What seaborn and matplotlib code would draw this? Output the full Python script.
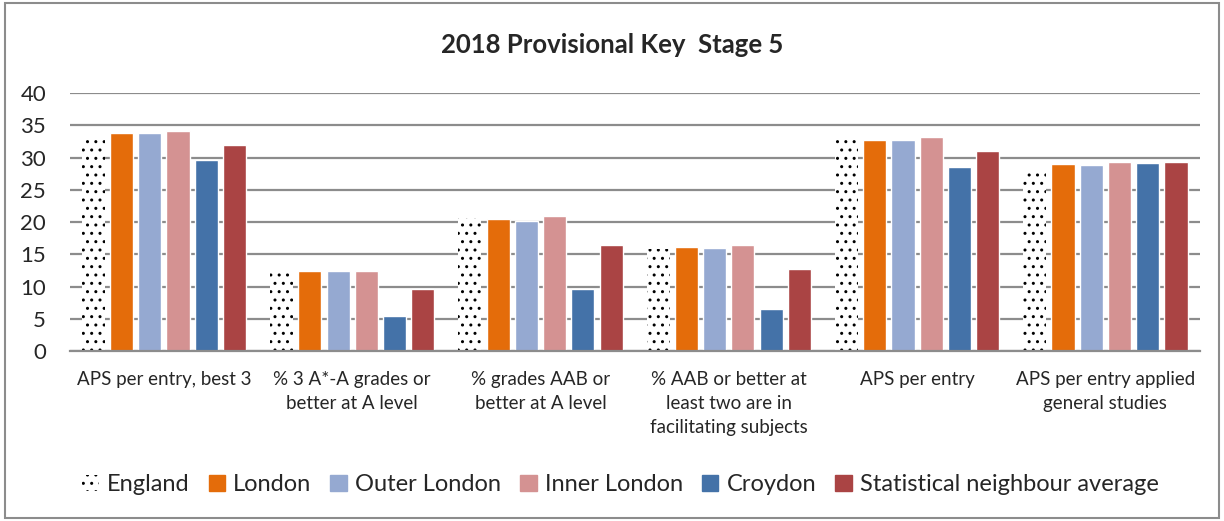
import pandas as pd
import numpy as np
import matplotlib
matplotlib.use('Agg')
import matplotlib.pyplot as plt
import matplotlib.patches as mpatches
import seaborn as sns

# Categories (x labels) and series
categories = ['APS per entry, best 3',
              '% 3 A*-A grades or\nbetter at A level',
              '% grades AAB or\nbetter at A level',
              '% AAB or better at\nleast two are in\nfacilitating subjects',
              'APS per entry',
              'APS per entry applied\ngeneral studies']
series = ['England', 'London', 'Outer London', 'Inner London', 'Croydon',
          'Statistical neighbour average']

england = [33.3, 12.5, 20.6, 15.8, 33.4, 28.2]
london = [33.9, 12.5, 20.5, 16.2, 32.8, 29.0]
outer_london = [33.8, 12.5, 20.2, 16.0, 32.7, 28.8]
inner_london = [34.1, 12.4, 20.9, 16.4, 33.2, 29.4]
croydon = [29.6, 5.4, 9.6, 6.6, 28.5, 29.2]
stat_neighbour = [31.9, 9.6, 16.5, 12.8, 31.1, 29.3]

colours = ['#ffffff', '#e46c0a', '#95a9d1', '#d49292', '#4472a8', '#aa4444']

values = [england, london, outer_london, inner_london, croydon, stat_neighbour]
rows = []
for s, v in zip(series, values):
    for c, x in zip(categories, v):
        rows.append({'category': c, 'series': s, 'value': x})
df = pd.DataFrame(rows)

sns.set_style('white')
plt.rcParams['font.family'] = ['Lato', 'DejaVu Sans']
plt.rcParams['hatch.linewidth'] = 1.0

fig = plt.figure(figsize=(12.24, 5.21), dpi=100)
ax = fig.add_axes([0.057, 0.326, 0.923, 0.495])

sns.barplot(data=df, x='category', y='value', hue='series', order=categories,
            hue_order=series, palette=dict(zip(series, colours)), width=0.9,
            gap=0.18, ax=ax, legend=False, saturation=1, edgecolor='white',
            linewidth=1)

# England bars: white with black dots, no outline
for bar in ax.containers[0]:
    bar.set_hatch('..')
    bar.set_edgecolor('black')
    bar.set_linewidth(0)

ax.set_ylim(0, 40)
ax.set_yticks(range(0, 41, 5))
ax.set_xlim(-0.5, len(categories) - 0.5)
ax.yaxis.grid(True, color='#8c8c8c', linewidth=1.6)
ax.set_axisbelow(True)
for side in ['top', 'right', 'left']:
    ax.spines[side].set_visible(False)
ax.spines['bottom'].set_color('#8c8c8c')
ax.spines['bottom'].set_linewidth(1.6)
ax.tick_params(axis='both', length=0)
ax.tick_params(axis='y', labelsize=16, pad=17)
ax.tick_params(axis='x', labelsize=13.5, pad=14)
plt.setp(ax.get_xticklabels(), va='top', ha='center', linespacing=1.5)
ax.set_xlabel('')
ax.set_ylabel('')

fig.suptitle('2018 Provisional Key  Stage 5', x=0.5, y=0.937,
             fontsize=18.5, fontweight='bold')

handles = []
for s, c in zip(series, colours):
    if s == 'England':
        handles.append(mpatches.Patch(facecolor='white', edgecolor='black',
                                      hatch='..', linewidth=0, label=s))
    else:
        handles.append(mpatches.Patch(facecolor=c, edgecolor=c, label=s))
fig.legend(handles=handles, loc='center', bbox_to_anchor=(0.507, 0.07),
           ncol=6, frameon=False, fontsize=17, handlelength=0.7,
           handleheight=0.7, handletextpad=0.35, columnspacing=0.8)

# grey chart border
fig.patches.append(mpatches.Rectangle((0.004, 0.006), 0.992, 0.988,
                                      transform=fig.transFigure, fill=False,
                                      edgecolor='#8c8c8c', linewidth=1.5))

fig.savefig('out.png', dpi=100)
